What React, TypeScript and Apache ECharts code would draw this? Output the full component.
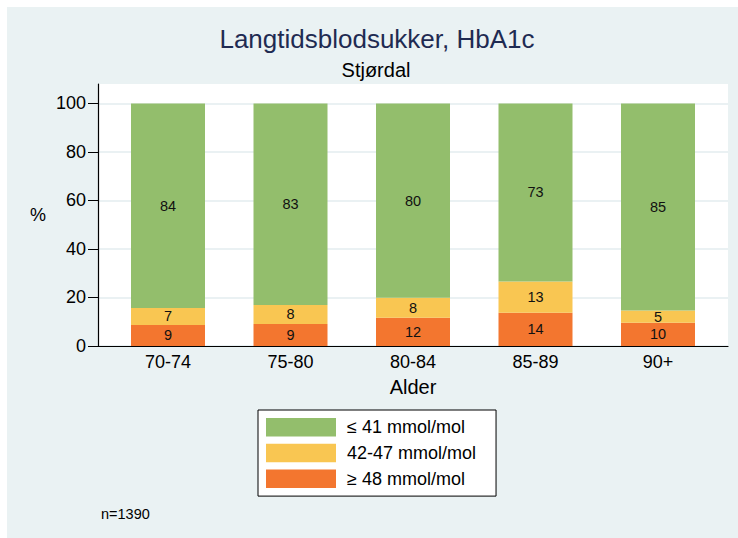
import React, { useEffect, useRef } from "react";
import * as echarts from "echarts";

const FONT = "'Liberation Sans', Arial, Helvetica, sans-serif";

const categories = ["70-74", "75-80", "80-84", "85-89", "90+"];
const seriesNames = ["≤ 41 mmol/mol", "42-47 mmol/mol", "≥ 48 mmol/mol"];
// percentages per age group
const high = [8.7, 9.1, 11.6, 13.7, 9.6]; // ≥ 48 mmol/mol
const mid = [7.0, 7.8, 8.3, 12.9, 5.0]; // 42-47 mmol/mol
const low = [84.3, 83.1, 80.1, 73.4, 85.4]; // ≤ 41 mmol/mol
const yTicks = [0, 20, 40, 60, 80, 100];

const GREEN = "#93BE6C";
const YELLOW = "#F9C652";
const ORANGE = "#F3762F";

export default function App() {
  const ref = useRef<HTMLDivElement>(null);
  useEffect(() => {
    document.body.style.margin = "0";
    const chart = echarts.init(ref.current!, null, { renderer: "svg" });
    const label = {
      show: true,
      position: "inside",
      formatter: (p: any) => String(Math.round(p.value)),
      fontSize: 14.5,
      fontFamily: FONT,
      color: "#111",
    };
    const mk = (name: string, data: number[], color: string) => ({
      type: "bar",
      name,
      xAxisIndex: 1,
      yAxisIndex: 1,
      stack: "total",
      data,
      barWidth: 74,
      itemStyle: { color },
      label,
    });
    const option: any = {
      animation: false,
      backgroundColor: "#ffffff",
      textStyle: { fontFamily: FONT },
      graphic: [
        {
          type: "rect",
          z: -10,
          silent: true,
          shape: { x: 7, y: 7, width: 731, height: 531 },
          style: { fill: "#EAF2F3" },
        },
        {
          type: "text",
          x: 377,
          y: 39,
          style: {
            text: "Langtidsblodsukker, HbA1c",
            fontSize: 26,
            fontFamily: FONT,
            fill: "#1F2B52",
            align: "center",
            verticalAlign: "middle",
          },
        },
        {
          type: "text",
          x: 376,
          y: 70,
          style: {
            text: "Stjørdal",
            fontSize: 20,
            fontFamily: FONT,
            fill: "#000",
            align: "center",
            verticalAlign: "middle",
          },
        },
        {
          type: "text",
          x: 38,
          y: 215,
          style: {
            text: "%",
            fontSize: 18,
            fontFamily: FONT,
            fill: "#000",
            align: "center",
            verticalAlign: "middle",
          },
        },
        {
          type: "text",
          x: 101,
          y: 514,
          style: {
            text: "n=1390",
            fontSize: 14.5,
            fontFamily: FONT,
            fill: "#000",
            align: "left",
            verticalAlign: "middle",
          },
        },
      ],
      grid: [
        {
          left: 98,
          right: 10,
          top: 84,
          bottom: 192,
          show: true,
          backgroundColor: "#ffffff",
          borderWidth: 0,
        },
        { left: 106.75, right: 18.75, top: 84, bottom: 192 },
      ],
      xAxis: [
        {
          type: "value",
          gridIndex: 0,
          min: 0,
          max: 1,
          z: 5,
          axisLine: { show: true, lineStyle: { color: "#000", width: 1.2 } },
          axisTick: { show: false },
          axisLabel: { show: false },
          splitLine: { show: false },
        },
        {
          type: "category",
          gridIndex: 1,
          data: categories,
          axisLine: { show: false },
          axisTick: { show: false },
          axisLabel: { fontSize: 18, color: "#000", margin: 7, fontFamily: FONT },
          name: "Alder",
          nameLocation: "middle",
          nameGap: 31,
          nameTextStyle: { fontSize: 20, color: "#000", fontFamily: FONT },
        },
      ],
      yAxis: [
        {
          type: "value",
          gridIndex: 0,
          min: 0,
          max: 108,
          interval: 20,
          axisLine: { show: true, lineStyle: { color: "#000", width: 1.2 } },
          axisTick: {
            show: true,
            length: 10,
            customValues: yTicks,
            lineStyle: { color: "#000", width: 1 },
          },
          axisLabel: {
            fontSize: 18,
            color: "#000",
            margin: 12,
            fontFamily: FONT,
            customValues: yTicks,
          },
          splitLine: { show: true, lineStyle: { color: "#E3ECEF", width: 1.5 } },
        },
        { type: "value", gridIndex: 1, min: 0, max: 108, show: false },
      ],
      legend: {
        data: seriesNames,
        orient: "vertical",
        left: 258,
        top: 410,
        itemWidth: 70,
        itemHeight: 18.5,
        itemGap: 7.3,
        icon: "rect",
        padding: [8, 20, 8, 8],
        backgroundColor: "#ffffff",
        borderColor: "#000",
        borderWidth: 1,
        borderRadius: 0,
        selectedMode: false,
        textStyle: { fontSize: 18, color: "#000", fontFamily: FONT, padding: [0, 0, 0, 6] },
      },
      series: [
        mk(seriesNames[2], high, ORANGE),
        mk(seriesNames[1], mid, YELLOW),
        mk(seriesNames[0], low, GREEN),
      ],
    };
    chart.setOption(option);
    return () => chart.dispose();
  }, []);
  return <div ref={ref} style={{ width: 738, height: 538 }} />;
}
